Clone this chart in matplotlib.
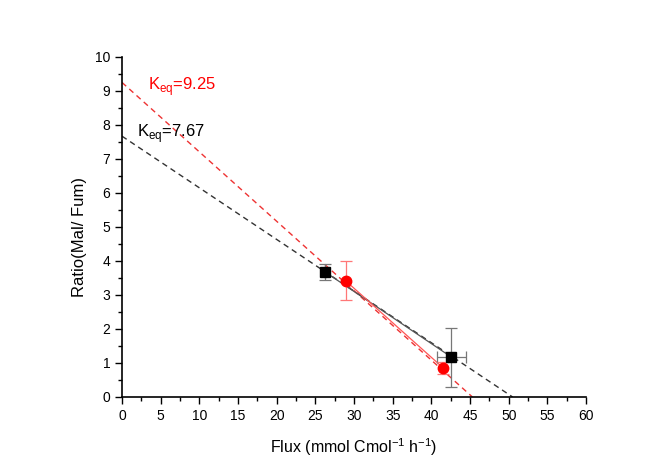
import matplotlib.pyplot as plt
import numpy as np
from matplotlib.ticker import MultipleLocator

plt.rcParams['font.family'] = ['Liberation Sans', 'DejaVu Sans']

# Measured points (flux, Mal/Fum ratio) with errors
black_x = [26.3, 42.6]
black_y = [3.67, 1.17]
black_xerr = [0.0, 1.85]
black_yerr = [0.24, 0.87]

red_x = [28.9, 41.5]
red_y = [3.42, 0.86]
red_yerr = [0.58, 0.18]

# Extrapolated fits: y-intercept (Keq) and x-intercept
black_keq = 7.67
black_xint = 50.5
red_keq = 9.25
red_xint = 45.3

fig = plt.figure(figsize=(6.69, 4.67), dpi=100)
ax = fig.add_axes([0.1824, 0.150, 0.6936, 0.728])

# dashed extrapolations
ax.plot([0, black_xint], [black_keq, 0], ls=(0, (4, 3)), color='#333333', lw=1.0)
ax.plot([0, red_xint], [red_keq, 0], ls=(0, (4, 3)), color='#ee3333', lw=1.0)

# solid segments between the points
ax.plot(black_x, black_y, color='#555555', lw=0.9)
ax.plot(red_x, red_y, color='#ff5555', lw=0.9)

ax.errorbar(black_x, black_y, xerr=black_xerr, yerr=black_yerr, fmt='s',
            color='black', ms=6.5, ecolor='#777777', elinewidth=0.9,
            capsize=4, capthick=0.9, zorder=5)
ax.errorbar(red_x, red_y, yerr=red_yerr, fmt='o', color='red', ms=7.5,
            ecolor='#ff7777', elinewidth=0.9, capsize=4, capthick=0.9,
            zorder=5)

ax.text(3.3, 9.03, 'K$_{\\mathregular{eq}}$=9.25', color='red', fontsize=12)
ax.text(2.0, 7.65, 'K$_{\\mathregular{eq}}$=7.67', color='black', fontsize=12)

ax.set_xlim(0, 60)
ax.set_ylim(0, 10)
ax.xaxis.set_major_locator(MultipleLocator(5))
ax.xaxis.set_minor_locator(MultipleLocator(2.5))
ax.yaxis.set_major_locator(MultipleLocator(1))
ax.yaxis.set_minor_locator(MultipleLocator(0.5))
ax.tick_params(which='major', direction='out', length=5, width=1, labelsize=10)
ax.tick_params(which='minor', direction='out', length=3, width=1)

for side in ['top', 'right']:
    ax.spines[side].set_visible(False)
for side in ['left', 'bottom']:
    ax.spines[side].set_linewidth(1.2)

ax.set_xlabel('Flux (mmol Cmol$^{\\mathregular{-1}}$ h$^{\\mathregular{-1}}$)', fontsize=11.5, labelpad=10)
ax.set_ylabel('Ratio(Mal/ Fum)', fontsize=12)
ax.yaxis.set_label_coords(-0.075, 0.47)

fig.savefig('out.png', dpi=100)
